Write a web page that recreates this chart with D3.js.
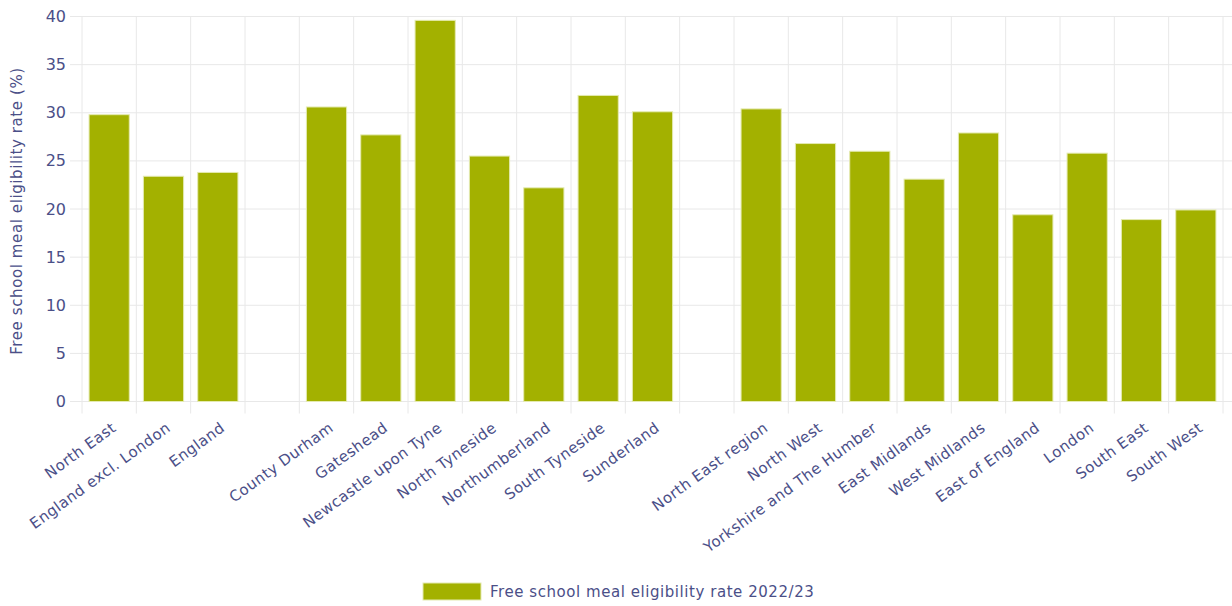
<!DOCTYPE html>
<html>
<head>
<meta charset="utf-8">
<script src="https://cdn.jsdelivr.net/npm/d3@7"></script>
<style>
  html, body { margin: 0; padding: 0; background: #fff; }
  svg { display: block; }
  text { font-family: "DejaVu Sans", "Open Sans", sans-serif; fill: #4b4f88; }
</style>
</head>
<body>
<svg id="chart" width="1232" height="606"></svg>
<script>
const categories = [
  "North East", "England excl. London", "England", "",
  "County Durham", "Gateshead", "Newcastle upon Tyne", "North Tyneside",
  "Northumberland", "South Tyneside", "Sunderland", " ",
  "North East region", "North West", "Yorkshire and The Humber", "East Midlands",
  "West Midlands", "East of England", "London", "South East", "South West"
];
const values = [
  29.8, 23.4, 23.8, null,
  30.6, 27.7, 39.6, 25.5,
  22.2, 31.8, 30.1, null,
  30.4, 26.8, 26.0, 23.1,
  27.9, 19.4, 25.8, 18.9, 19.9
];
const yTicks = [0, 5, 10, 15, 20, 25, 30, 35, 40];
const seriesName = "Free school meal eligibility rate 2022/23";
const yTitle = "Free school meal eligibility rate (%)";

const data = categories.map((c, i) => ({ cat: c, value: values[i] }));

const svg = d3.select("#chart");
const pLeft = 82, pRight = 1223, pTop = 16.5, pBottom = 401.5;

const x = d3.scaleBand().domain(categories).range([pLeft, pRight]).padding(0);
const y = d3.scaleLinear().domain([0, 40]).range([pBottom, pTop]);
const step = x.bandwidth();
const barInset = 0.13 * step;
const barW = step - 2 * barInset;

// horizontal gridlines
svg.append("g").selectAll("line").data(yTicks).join("line")
  .attr("x1", 70).attr("x2", 1232)
  .attr("y1", d => y(d)).attr("y2", d => y(d))
  .attr("stroke", "#e8e8e8").attr("stroke-width", 1);

// vertical gridlines at category boundaries
const bounds = categories.map(c => x(c)).concat([x(categories[categories.length - 1]) + step]);
svg.append("g").selectAll("line").data(bounds).join("line")
  .attr("x1", d => d).attr("x2", d => d)
  .attr("y1", pTop).attr("y2", pBottom + 12)
  .attr("stroke", "#e8e8e8").attr("stroke-width", 1);

// y tick labels
svg.append("g").selectAll("text").data(yTicks).join("text")
  .attr("x", 66).attr("y", d => y(d))
  .attr("dy", "0.35em")
  .attr("text-anchor", "end")
  .style("font-size", "16px")
  .text(d => d);

// y title
svg.append("text")
  .attr("transform", `translate(22, ${(pTop + pBottom) / 2 + 2}) rotate(-90)`)
  .attr("text-anchor", "middle")
  .style("font-size", "15px")
  .style("letter-spacing", "0.6px")
  .text(yTitle);

// bars
svg.append("g").selectAll("rect").data(data.filter(d => d.value != null)).join("rect")
  .attr("x", d => x(d.cat) + barInset)
  .attr("width", barW)
  .attr("y", d => y(d.value))
  .attr("height", d => y(0) - y(d.value))
  .attr("fill", "#a3b100")
  .attr("stroke", "#e4eab0")
  .attr("stroke-width", 1);

// x labels
svg.append("g").selectAll("text").data(categories).join("text")
  .attr("transform", d => `translate(${x(d) + step / 2 + 8}, 430) rotate(-36)`)
  .attr("text-anchor", "end")
  .style("font-size", "15px")
  .style("letter-spacing", "0.45px")
  .text(d => d.trim());

// legend
const lg = svg.append("g");
lg.append("rect").attr("x", 423).attr("y", 583).attr("width", 58).attr("height", 17)
  .attr("fill", "#a3b100").attr("stroke", "#e4eab0");
lg.append("text").attr("x", 490).attr("y", 591.5).attr("dy", "0.35em")
  .style("font-size", "15px")
  .style("letter-spacing", "0.55px")
  .text(seriesName);
</script>
</body>
</html>
